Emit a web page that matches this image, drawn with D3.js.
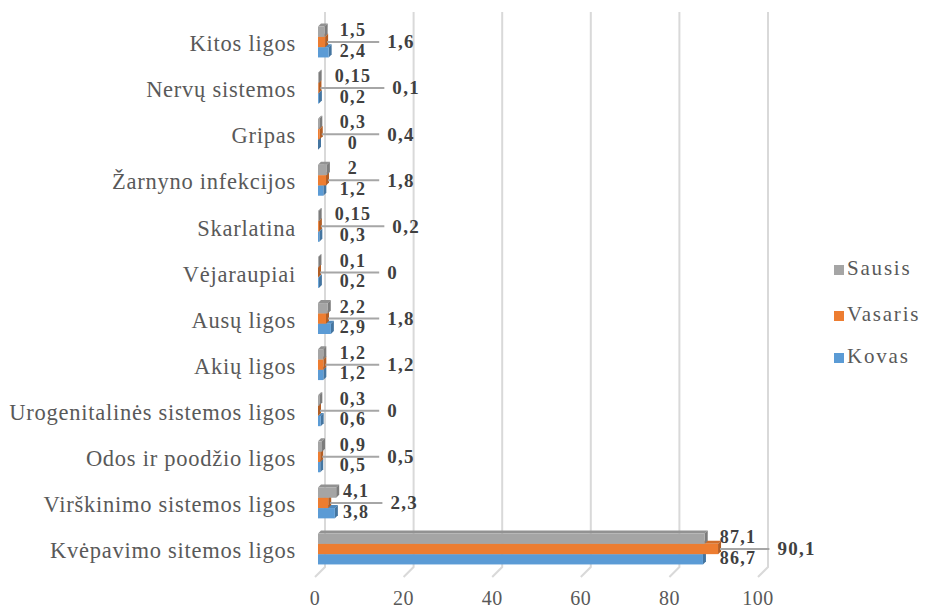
<!DOCTYPE html>
<html><head><meta charset="utf-8">
<script src="https://cdn.jsdelivr.net/npm/d3@7"></script>
<style>body{margin:0;background:#fff}</style></head>
<body>
<svg id="c" width="927" height="612"></svg>
<script>
const categories = ["Kitos ligos","Nervų sistemos","Gripas","Žarnyno infekcijos","Skarlatina","Vėjaraupiai","Ausų ligos","Akių ligos","Urogenitalinės sistemos ligos","Odos ir poodžio ligos","Virškinimo sistemos ligos","Kvėpavimo sitemos ligos"];
const sausis  = [1.5,0.15,0.3,2,0.15,0.1,2.2,1.2,0.3,0.9,4.1,87.1];
const vasaris = [1.6,0.1,0.4,1.8,0.2,0,1.8,1.2,0,0.5,2.3,90.1];
const kovas   = [2.4,0.2,0,1.2,0.3,0.2,2.9,1.2,0.6,0.5,3.8,86.7];
const seriesNames = ["Sausis","Vasaris","Kovas"];
const seriesColors = ["#a5a5a5","#ed7d31","#5b9bd5"];
const tickValues = [0,20,40,60,80,100];

const svg = d3.select("#c");
const fmt = v => String(v).replace(".", ",");
const serif = "Liberation Serif, Times New Roman, serif";

const xFront = d3.scaleLinear().domain([0,100]).range([315,758]);
const xBar = d3.scaleLinear().domain([0,100]).range([318,762]);
const y = d3.scalePoint().domain(categories).range([46,553]);
const depth = 10, barD = 3, barH = 10.3;

// gridlines (back wall + floor slant)
const grid = svg.append("g");
tickValues.forEach(v => {
  grid.append("path")
    .attr("d", `M${xFront(v)+depth},12 L${xFront(v)+depth},567 L${xFront(v)},577`)
    .attr("fill","none").attr("stroke","#d9d9d9").attr("stroke-width",2);
});

// axis tick labels
svg.append("g").selectAll("text").data(tickValues).join("text")
  .attr("x", d => xFront(d)).attr("y", 600)
  .attr("text-anchor","middle").attr("dominant-baseline","middle")
  .attr("font-family", serif).attr("font-size", 20).attr("letter-spacing", 0.5)
  .attr("fill","#595959").text(d => d);

// category labels
svg.append("g").selectAll("text").data(categories).join("text")
  .attr("x", 296).attr("y", d => y(d))
  .attr("text-anchor","end").attr("dominant-baseline","middle")
  .attr("font-family", serif).attr("font-size", 22.5).attr("letter-spacing", 0.75)
  .attr("fill","#595959").text(d => d);

// bars
const seriesData = [sausis, vasaris, kovas];
const barsG = svg.append("g");
categories.forEach((c, i) => {
  const center = y(c) - 4;
  for (let s = 2; s >= 0; s--) {
    const v = seriesData[s][i];
    const x0 = xBar(0), x1 = xBar(v);
    const yt = center - 1.5*barH + s*barH;
    const col = d3.color(seriesColors[s]);
    const g = barsG.append("g");
    g.append("path")
      .attr("d", `M${x0},${yt} L${x0+barD},${yt-barD} L${x1+barD},${yt-barD} L${x1},${yt} Z`)
      .attr("fill", col.darker(0.35));
    g.append("path")
      .attr("d", `M${x1},${yt} L${x1+barD},${yt-barD} L${x1+barD},${yt+barH-barD} L${x1},${yt+barH} Z`)
      .attr("fill", col.darker(0.8));
    g.append("rect").attr("x", x0).attr("y", yt).attr("width", Math.max(0, x1-x0)).attr("height", barH)
      .attr("fill", col);
  }
});

// data labels: gray above line, blue below, orange at line end
const lblG = svg.append("g");
categories.forEach((c, i) => {
  const lineY = y(c) - 4;
  const mx = Math.max(sausis[i], vasaris[i], kovas[i]);
  const cx = Math.max(xBar(mx) + 20, xBar(0) + 35);
  const common = t => t.attr("font-family", serif).attr("font-size", 18).attr("font-weight","bold")
      .attr("letter-spacing", 1.3).attr("fill","#404040").attr("dominant-baseline","middle");
  const top = lblG.append("text").attr("x", cx).attr("y", lineY - 10).attr("text-anchor","middle")
    .call(common).text(fmt(sausis[i]));
  const bot = lblG.append("text").attr("x", cx).attr("y", lineY + 10.5).attr("text-anchor","middle")
    .call(common).text(fmt(kovas[i]));
  const w = Math.max(top.node().getComputedTextLength(), bot.node().getComputedTextLength());
  const lineEnd = cx + w/2 + 13;
  lblG.append("line").attr("x1", xBar(vasaris[i]) + 2).attr("x2", lineEnd)
    .attr("y1", lineY).attr("y2", lineY).attr("stroke","#a6a6a6").attr("stroke-width",2);
  lblG.append("text").attr("x", lineEnd + 8).attr("y", lineY + 2).attr("text-anchor","start")
    .call(common).attr("font-size", 19).text(fmt(vasaris[i]));
});

// legend
const leg = svg.append("g");
const legY = [270, 316, 358];
seriesNames.forEach((n, k) => {
  leg.append("rect").attr("x", 834).attr("y", legY[k]-5).attr("width", 10).attr("height", 10)
    .attr("fill", seriesColors[k]);
  leg.append("text").attr("x", 847).attr("y", legY[k]).attr("dominant-baseline","middle")
    .attr("font-family", serif).attr("font-size", 21).attr("letter-spacing", 1.8)
    .attr("fill","#595959").text(n);
});
</script>
</body></html>
